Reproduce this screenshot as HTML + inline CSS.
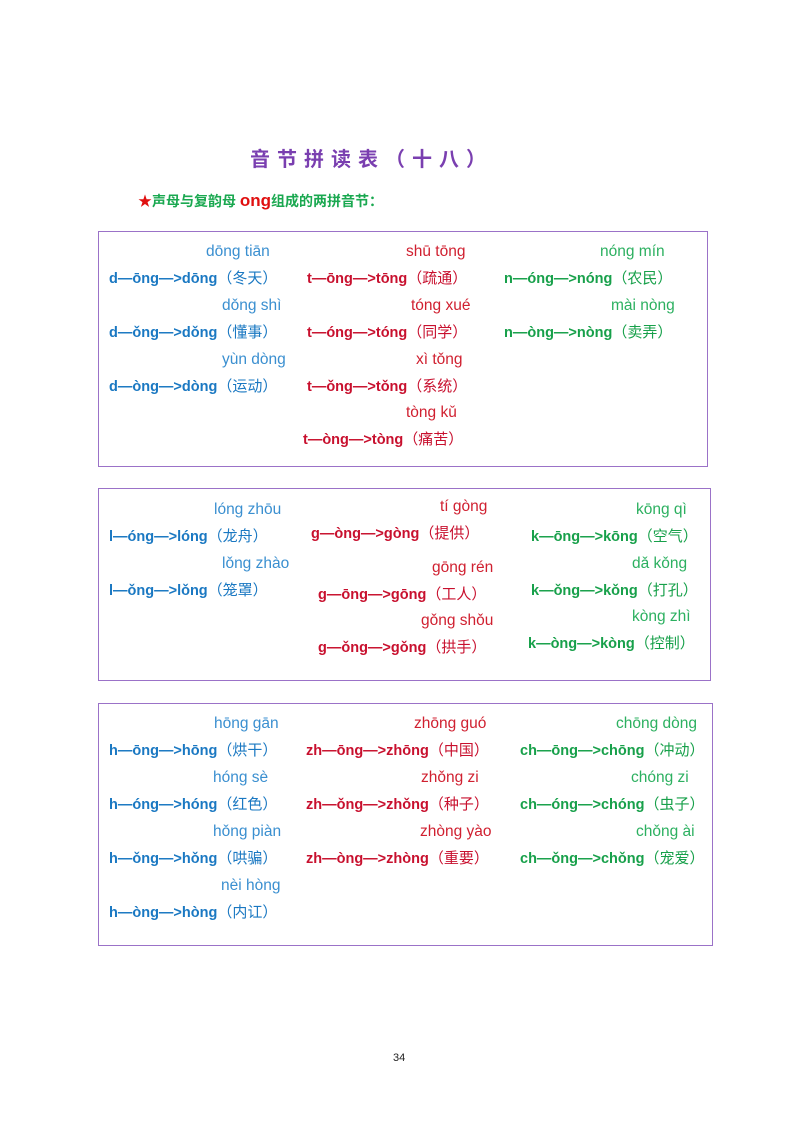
<!DOCTYPE html>
<html><head><meta charset="utf-8"><style>
body{margin:0;width:800px;height:1132px;background:#fff;position:relative;font-family:"Liberation Sans","Noto Sans CJK SC",sans-serif;overflow:hidden}
.box{position:absolute;border:1.5px solid #9b72c8;box-sizing:border-box}
.t{position:absolute;line-height:18px;font-size:15.5px;white-space:nowrap}
.f{font-weight:bold;font-size:14.5px}
.f span{font-weight:normal;font-size:15px}
.b{color:#1a78c2}.r{color:#c8102e}.g{color:#17a04a}
.pb{color:#3a8fd0}.pr{color:#d02030}.pg{color:#2cb060}
</style></head><body>
<div class="t" style="left:250px;top:147px;font-size:20px;line-height:26px;font-weight:bold;color:#7a3fb0;letter-spacing:7px">音节拼读表（十八）</div>
<div class="t" style="left:138px;top:191px;font-size:14px;line-height:20px;font-weight:bold;color:#1aa850"><span style="color:#e01010">★</span>声母与复韵母 <span style="color:#e01010;font-size:17px">ong</span>组成的两拼音节：</div>

<div class="box" style="left:98px;top:231px;width:610px;height:236px"></div>
<div class="box" style="left:98px;top:488px;width:613px;height:193px"></div>
<div class="box" style="left:98px;top:703px;width:615px;height:243px"></div>

<!-- box1 -->
<div class="t pb" style="left:206px;top:243px">dōng tiān</div>
<div class="t f b" style="left:109px;top:270px">d—ōng—>dōng<span>（冬天）</span></div>
<div class="t pb" style="left:222px;top:297px">dǒng shì</div>
<div class="t f b" style="left:109px;top:324px">d—ǒng—>dǒng<span>（懂事）</span></div>
<div class="t pb" style="left:222px;top:351px">yùn dòng</div>
<div class="t f b" style="left:109px;top:378px">d—òng—>dòng<span>（运动）</span></div>

<div class="t pr" style="left:406px;top:243px">shū tōng</div>
<div class="t f r" style="left:307px;top:270px">t—ōng—>tōng<span>（疏通）</span></div>
<div class="t pr" style="left:411px;top:297px">tóng xué</div>
<div class="t f r" style="left:307px;top:324px">t—óng—>tóng<span>（同学）</span></div>
<div class="t pr" style="left:416px;top:351px">xì tǒng</div>
<div class="t f r" style="left:307px;top:378px">t—ǒng—>tǒng<span>（系统）</span></div>
<div class="t pr" style="left:406px;top:404px">tòng kǔ</div>
<div class="t f r" style="left:303px;top:431px">t—òng—>tòng<span>（痛苦）</span></div>

<div class="t pg" style="left:600px;top:243px">nóng mín</div>
<div class="t f g" style="left:504px;top:270px">n—óng—>nóng<span>（农民）</span></div>
<div class="t pg" style="left:611px;top:297px">mài nòng</div>
<div class="t f g" style="left:504px;top:324px">n—òng—>nòng<span>（卖弄）</span></div>

<!-- box2 -->
<div class="t pb" style="left:214px;top:501px">lóng zhōu</div>
<div class="t f b" style="left:109px;top:528px">l—óng—>lóng<span>（龙舟）</span></div>
<div class="t pb" style="left:222px;top:555px">lǒng zhào</div>
<div class="t f b" style="left:109px;top:582px">l—ǒng—>lǒng<span>（笼罩）</span></div>

<div class="t pr" style="left:440px;top:498px">tí gòng</div>
<div class="t f r" style="left:311px;top:525px">g—òng—>gòng<span>（提供）</span></div>
<div class="t pr" style="left:432px;top:559px">gōng rén</div>
<div class="t f r" style="left:318px;top:586px">g—ōng—>gōng<span>（工人）</span></div>
<div class="t pr" style="left:421px;top:612px">gǒng shǒu</div>
<div class="t f r" style="left:318px;top:639px">g—ǒng—>gǒng<span>（拱手）</span></div>

<div class="t pg" style="left:636px;top:501px">kōng qì</div>
<div class="t f g" style="left:531px;top:528px">k—ōng—>kōng<span>（空气）</span></div>
<div class="t pg" style="left:632px;top:555px">dǎ kǒng</div>
<div class="t f g" style="left:531px;top:582px">k—ǒng—>kǒng<span>（打孔）</span></div>
<div class="t pg" style="left:632px;top:608px">kòng zhì</div>
<div class="t f g" style="left:528px;top:635px">k—òng—>kòng<span>（控制）</span></div>

<!-- box3 -->
<div class="t pb" style="left:214px;top:715px">hōng gān</div>
<div class="t f b" style="left:109px;top:742px">h—ōng—>hōng<span>（烘干）</span></div>
<div class="t pb" style="left:213px;top:769px">hóng sè</div>
<div class="t f b" style="left:109px;top:796px">h—óng—>hóng<span>（红色）</span></div>
<div class="t pb" style="left:213px;top:823px">hǒng piàn</div>
<div class="t f b" style="left:109px;top:850px">h—ǒng—>hǒng<span>（哄骗）</span></div>
<div class="t pb" style="left:221px;top:877px">nèi hòng</div>
<div class="t f b" style="left:109px;top:904px">h—òng—>hòng<span>（内讧）</span></div>

<div class="t pr" style="left:414px;top:715px">zhōng guó</div>
<div class="t f r" style="left:306px;top:742px">zh—ōng—>zhōng<span>（中国）</span></div>
<div class="t pr" style="left:421px;top:769px">zhǒng zi</div>
<div class="t f r" style="left:306px;top:796px">zh—ǒng—>zhǒng<span>（种子）</span></div>
<div class="t pr" style="left:420px;top:823px">zhòng yào</div>
<div class="t f r" style="left:306px;top:850px">zh—òng—>zhòng<span>（重要）</span></div>

<div class="t pg" style="left:616px;top:715px">chōng dòng</div>
<div class="t f g" style="left:520px;top:742px">ch—ōng—>chōng<span>（冲动）</span></div>
<div class="t pg" style="left:631px;top:769px">chóng zi</div>
<div class="t f g" style="left:520px;top:796px">ch—óng—>chóng<span>（虫子）</span></div>
<div class="t pg" style="left:636px;top:823px">chǒng ài</div>
<div class="t f g" style="left:520px;top:850px">ch—ǒng—>chǒng<span>（宠爱）</span></div>

<div class="t" style="left:393px;top:1049px;font-size:11px;color:#222">34</div>
</body></html>
